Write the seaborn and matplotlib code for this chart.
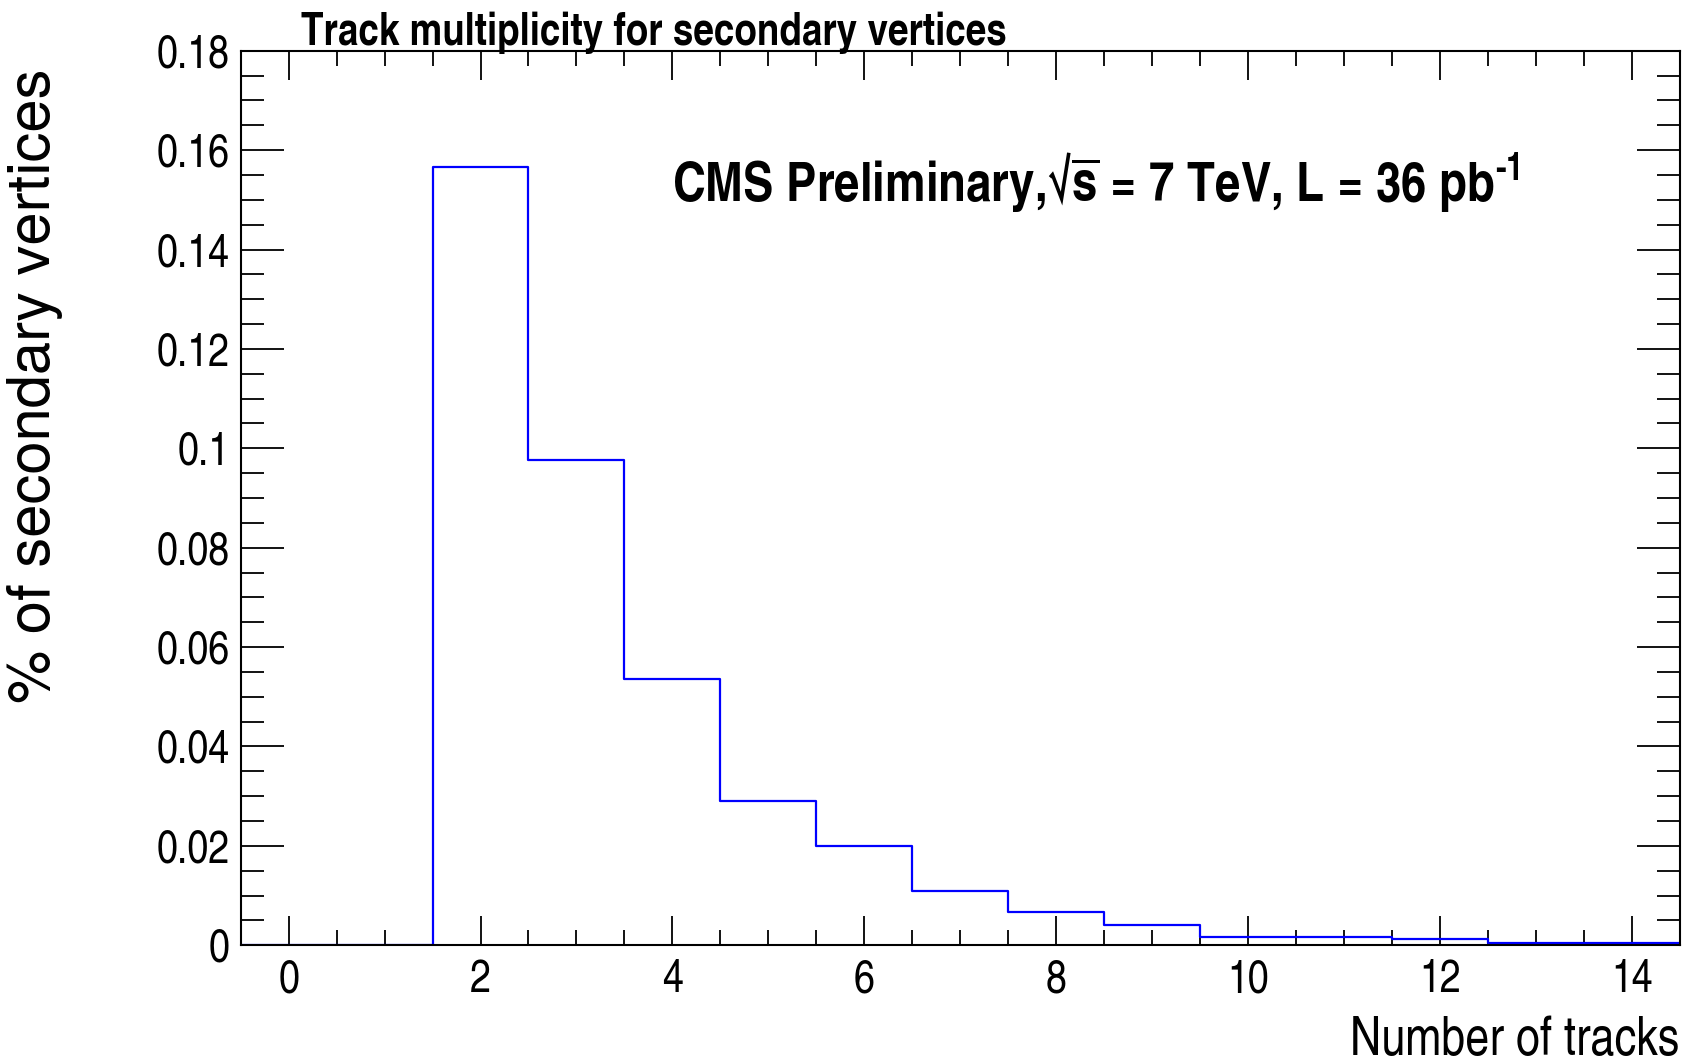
import matplotlib
matplotlib.use("Agg")
import matplotlib.pyplot as plt
import seaborn as sns
import numpy as np
import pandas as pd
from matplotlib.ticker import MultipleLocator

# Data
n_tracks = [0, 1, 2, 3, 4, 5, 6, 7, 8, 9, 10, 11, 12, 13, 14]
fraction = [0.0, 0.0, 0.1567, 0.0976, 0.0535, 0.0291, 0.0199, 0.0110, 0.0066, 0.0040,
            0.0017, 0.0017, 0.0013, 0.0004, 0.0004]
bin_edges = [-0.5, 0.5, 1.5, 2.5, 3.5, 4.5, 5.5, 6.5, 7.5, 8.5, 9.5, 10.5, 11.5, 12.5, 13.5, 14.5]
x_ticks = [0, 2, 4, 6, 8, 10, 12, 14]
y_ticks = [0, 0.02, 0.04, 0.06, 0.08, 0.1, 0.12, 0.14, 0.16, 0.18]
y_ticklabels = ["0", "0.02", "0.04", "0.06", "0.08", "0.1", "0.12", "0.14", "0.16", "0.18"]

sns.set_theme(style="ticks")
CN = ['TeX Gyre Heros Cn', 'Liberation Sans', 'DejaVu Sans']
plt.rcParams['font.family'] = CN
plt.rcParams['text.color'] = 'black'
plt.rcParams['axes.labelcolor'] = 'black'
plt.rcParams['xtick.color'] = 'black'
plt.rcParams['ytick.color'] = 'black'
plt.rcParams['mathtext.fontset'] = 'custom'
plt.rcParams['mathtext.rm'] = 'TeX Gyre Heros Cn:bold'
plt.rcParams['mathtext.bf'] = 'TeX Gyre Heros Cn:bold'
plt.rcParams['mathtext.it'] = 'TeX Gyre Heros Cn:bold'

df = pd.DataFrame({"tracks": n_tracks, "frac": fraction})

fig = plt.figure(figsize=(17.01, 10.64), dpi=100)
ax = fig.add_axes([0.1415, 0.1116, 0.9874 - 0.1415, 0.9523 - 0.1116])

sns.histplot(data=df, x="tracks", weights="frac", bins=bin_edges, element="step",
             fill=False, color="#0000ff", linewidth=1.6, ax=ax)

ax.set_xlim(-0.5, 14.5)
ax.set_ylim(0, 0.18)
ax.set_xticks(x_ticks)
ax.set_xticklabels([str(t) for t in x_ticks])
ax.set_yticks(y_ticks)
ax.set_yticklabels(y_ticklabels)
ax.xaxis.set_minor_locator(MultipleLocator(0.5))
ax.yaxis.set_minor_locator(MultipleLocator(0.005))

for s in ax.spines.values():
    s.set_visible(True)
    s.set_linewidth(1.5)
    s.set_color("black")
    s.set_zorder(5)

ax.tick_params(axis="x", which="major", direction="in", length=21, width=1.3,
               top=True, bottom=True, labelsize=33, pad=10)
ax.tick_params(axis="x", which="minor", direction="in", length=11, width=1.3,
               top=True, bottom=True)
ax.tick_params(axis="y", which="major", direction="in", length=31, width=1.3,
               left=True, right=True, labelsize=33, pad=8)
ax.tick_params(axis="y", which="minor", direction="in", length=16.5, width=1.3,
               left=True, right=True)

ax.set_xlabel("")
ax.set_ylabel("")

fig.text(0.9874, 0.0085, "Number of tracks", ha="right", va="baseline", fontsize=38)
fig.text(0.0204, 0.637, "% of secondary vertices", rotation=90, ha="center", va="center",
         fontsize=43, family=['TeX Gyre Heros', 'Liberation Sans', 'DejaVu Sans'])
fig.text(0.177, 0.958, "Track multiplicity for secondary vertices", ha="left", va="baseline",
         fontsize=32.3, fontweight="bold")
ax.text(0.300, 0.832, "CMS Preliminary,\u221a$\\overline{\\mathrm{s}}$ = 7 TeV, L = 36 pb$^{\\text{-}1}$",
        transform=ax.transAxes, ha="left", va="baseline", fontsize=40, fontweight="bold")

fig.savefig("out.png", dpi=100)
